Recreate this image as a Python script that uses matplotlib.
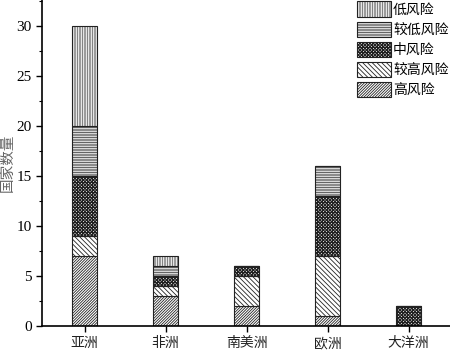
import matplotlib
matplotlib.use("Agg")
import matplotlib.pyplot as plt
import numpy as np

continents = ["亚洲", "非洲", "南美洲", "欧洲", "大洋洲"]
risk_levels = ["高风险", "较高风险", "中风险", "较低风险", "低风险"]
high = [7, 3, 2, 1, 0]
higher = [2, 1, 3, 6, 0]
medium = [6, 1, 1, 6, 2]
lower = [5, 1, 0, 3, 0]
low = [10, 1, 0, 0, 0]

series = [high, higher, medium, lower, low]
hatches = ["/" * 12, "\\" * 7, "x" * 10, "-" * 10, "|" * 10]
hatch_widths = [0.6, 0.6, 0.9, 0.5, 0.4]

plt.rcParams["font.family"] = ["Noto Sans CJK SC", "DejaVu Sans"]
plt.rcParams["hatch.color"] = "#333333"

fig = plt.figure(figsize=(4.5, 3.5), dpi=100)
ax = fig.add_axes([0.0933, 0.0686, 0.9067, 0.9314])

x = np.arange(len(continents))
bottom = np.zeros(len(continents))
handles = []
for vals, hatch, hw, name in zip(series, hatches, hatch_widths, risk_levels):
    vals = np.array(vals, dtype=float)
    with plt.rc_context({"hatch.linewidth": hw}):
        bars = ax.bar(x, vals, width=0.31, bottom=bottom, color="white",
                      edgecolor="#222222", linewidth=0.8, hatch=hatch,
                      label=name)
    handles.append(bars)
    bottom += vals

ax.set_xlim(-0.525, 4.51)
ax.set_ylim(0, 32.6)
ax.set_xticks(x)
ax.set_xticklabels(continents, fontsize=10, color="#222222")
ax.set_yticks(np.arange(0, 31, 5))
ax.set_yticks(np.arange(0, 32.6, 2.5), minor=True)
ax.set_yticklabels([str(v) for v in range(0, 31, 5)],
                   fontfamily="Liberation Serif", fontsize=11)
ax.tick_params(axis="both", which="major", direction="out", length=4, width=1)
ax.tick_params(axis="y", which="minor", direction="out", length=2.5, width=0.8)
ax.set_ylabel("国家数量", fontsize=10.5, color="#666666")
ax.yaxis.set_label_coords(-0.066, 0.5)

for side in ("top", "right"):
    ax.spines[side].set_visible(False)
for side in ("left", "bottom"):
    ax.spines[side].set_linewidth(1.2)

with plt.rc_context({"hatch.linewidth": 0.5}):
    leg = ax.legend(handles[::-1], risk_levels[::-1], loc="upper right",
                    bbox_to_anchor=(1.0, 1.0), frameon=False, fontsize=10,
                    handlelength=2.45, handleheight=1.3, handletextpad=0.15,
                    labelspacing=0.36, borderpad=0.1, borderaxespad=0.0)
for patch, hw in zip(leg.get_patches(), hatch_widths[::-1]):
    if hasattr(patch, "set_hatch_linewidth"):
        patch.set_hatch_linewidth(hw)

fig.savefig("out.png", dpi=100)
